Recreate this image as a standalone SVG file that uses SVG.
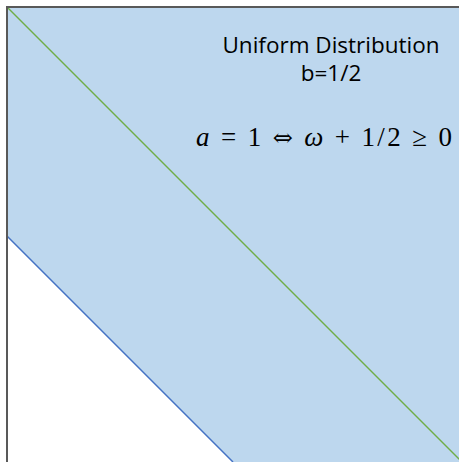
<svg xmlns="http://www.w3.org/2000/svg" width="459" height="462" viewBox="0 0 459 462">
<style>
.t{font-family:"Open Sans","Liberation Sans",sans-serif;font-size:22.5px;fill:#000}
.m{font-family:"Liberation Serif","DejaVu Serif",serif;font-size:27px;fill:#000}
.s{font-family:"DejaVu Serif",serif;font-size:24px}
</style>
<rect width="459" height="462" fill="#fff"/>
<g id="region">
<polygon points="7,7 459,7 459,462 233,462 7,236" fill="#BDD7EE"/>
</g>
<g id="connectors">
<line x1="7" y1="7" x2="462" y2="462" stroke="#70AD47" stroke-width="1.5"/>
<line x1="7" y1="236" x2="233" y2="462" stroke="#4472C4" stroke-width="1.5"/>
<polyline points="7,462 7,7 459,7" fill="none" stroke="#595959" stroke-width="2"/>
</g>
<g id="label">
<text class="t" x="331" y="53" text-anchor="middle">Uniform Distribution</text>
<text class="t" x="331" y="81" text-anchor="middle">b=1/2</text>
<text class="m" x="196" y="146" textLength="256" lengthAdjust="spacing"><tspan font-style="italic">a</tspan> = 1 <tspan class="s">⇔</tspan> <tspan font-style="italic">ω</tspan> + 1/2 ≥ 0</text>
</g>
</svg>
